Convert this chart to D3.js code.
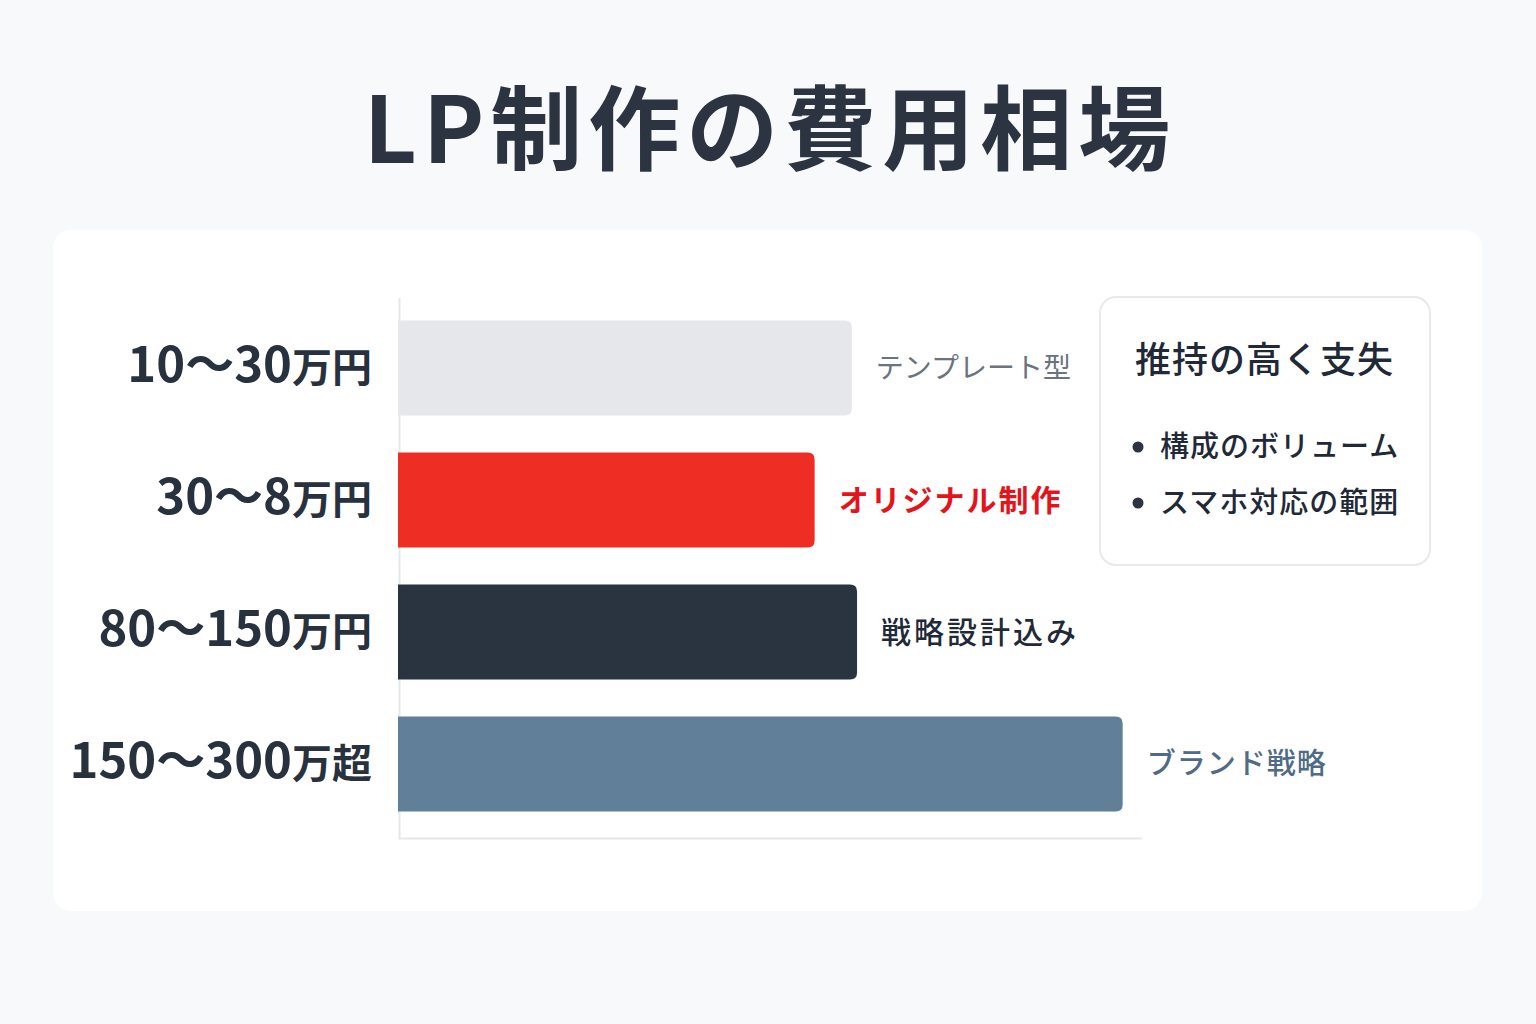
<!DOCTYPE html>
<html><head><meta charset="utf-8">
<script src="https://cdn.jsdelivr.net/npm/d3@7"></script>
<style>
html,body{margin:0;padding:0;background:#f8f9fa;}
svg{display:block;font-family:"Noto Sans CJK JP","Noto Sans",sans-serif;}
</style></head>
<body><svg id="chart" width="1536" height="1024"></svg>
<script>
const title = "LP制作の費用相場";
const categories = ["10～30", "30～8", "80～150", "150～300"];
const categoryUnits = ["万円", "万円", "万円", "万超"];
const values = [61, 56, 61.7, 97.4];
const barLabels = ["テンプレート型", "オリジナル制作", "戦略設計込み", "ブランド戦略"];
const barColors = ["#e5e7eb", "#ee2d24", "#2a3441", "#627f99"];
const labelColors = ["#6b7280", "#e3141b", "#1f2937", "#4f6b85"];
const labelWeights = [400, 700, 500, 500];
const legendTitle = "推持の高く支失";
const legendItems = ["構成のボリューム", "スマホ対応の範囲"];

const labelSpacing = [0, 2, 3, 1];
const labelSizes = [28, 30, 30, 29];

const svg = d3.select("#chart");
svg.append("rect").attr("width",1536).attr("height",1024).attr("fill","#f8f9fa");
svg.append("rect").attr("x",53).attr("y",230).attr("width",1429).attr("height",681)
  .attr("rx",18).attr("fill","#ffffff");

svg.append("text").attr("x",770).attr("y",163).attr("text-anchor","middle")
  .attr("font-size",92).attr("font-weight",700).attr("letter-spacing",6)
  .attr("fill","#2b3440").text(title);

const x = d3.scaleLinear().domain([0,100]).range([398,1142]);
const y = d3.scaleBand().domain(categories).range([298,834]).paddingInner(0.28).paddingOuter(0.17);

// axis lines
svg.append("line").attr("x1",399.5).attr("x2",399.5).attr("y1",298).attr("y2",839)
  .attr("stroke","#e5e7eb").attr("stroke-width",2);
svg.append("line").attr("x1",399).attr("x2",1142).attr("y1",838.5).attr("y2",838.5)
  .attr("stroke","#e5e7eb").attr("stroke-width",2);

const r = 7;
function barPath(x0, x1, y0, h){
  return `M${x0},${y0} H${x1-r} Q${x1},${y0} ${x1},${y0+r} V${y0+h-r} Q${x1},${y0+h} ${x1-r},${y0+h} H${x0} Z`;
}
const g = svg.append("g");
categories.forEach((c,i)=>{
  const y0 = y(c), h = y.bandwidth(), xe = x(values[i]);
  g.append("path").attr("d", barPath(x(0), xe, y0, h)).attr("fill", barColors[i]);
  const t = g.append("text").attr("x",372).attr("y",y0+h/2+8).attr("dy","0.36em")
    .attr("text-anchor","end").attr("font-weight",700).attr("fill","#28323e");
  t.append("tspan").attr("font-size",49).text(c);
  t.append("tspan").attr("font-size",40).text(categoryUnits[i]);
  g.append("text").attr("x",xe+24).attr("y",y0+h/2).attr("dy","0.36em")
    .attr("font-size",labelSizes[i]).attr("font-weight",labelWeights[i]).attr("letter-spacing",labelSpacing[i])
    .attr("fill",labelColors[i]).text(barLabels[i]);
});

// legend box
const lg = svg.append("g");
lg.append("rect").attr("x",1100).attr("y",297).attr("width",330).attr("height",268)
  .attr("rx",16).attr("fill","#ffffff").attr("stroke","#e7e9ec").attr("stroke-width",2);
lg.append("text").attr("x",1135).attr("y",373).attr("font-size",36).attr("font-weight",500)
  .attr("letter-spacing",1).attr("fill","#1f2937").text(legendTitle);
legendItems.forEach((d,i)=>{
  const yy = 447 + i*56;
  lg.append("circle").attr("cx",1138).attr("cy",yy).attr("r",5.5).attr("fill","#2b3440");
  lg.append("text").attr("x",1160).attr("y",yy).attr("dy","0.36em").attr("font-size",29)
    .attr("font-weight",500).attr("letter-spacing",1).attr("fill","#1f2937").text(d);
});
</script></body></html>
